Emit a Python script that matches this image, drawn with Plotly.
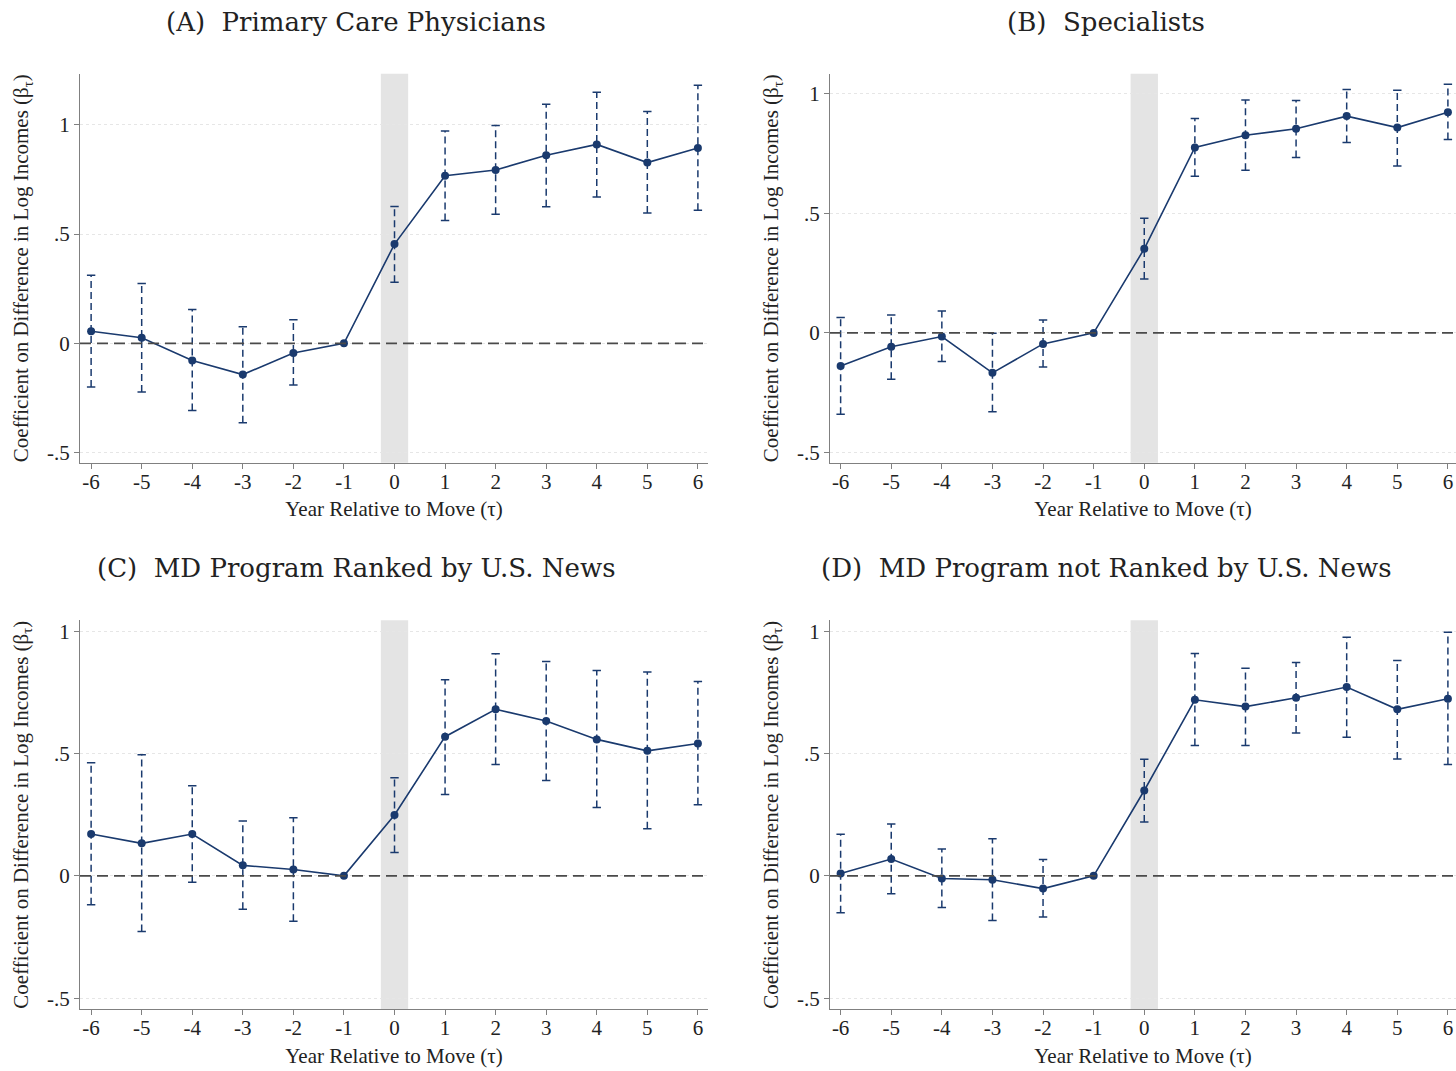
import plotly.graph_objects as go

years = [-6, -5, -4, -3, -2, -1, 0, 1, 2, 3, 4, 5, 6]

# Panel A: Primary Care Physicians
a_coef = [0.055, 0.026, -0.078, -0.143, -0.044, 0.0, 0.454, 0.767, 0.793, 0.860, 0.910, 0.827, 0.894]
a_hi = [0.312, 0.274, 0.155, 0.076, 0.108, None, 0.626, 0.971, 0.997, 1.094, 1.149, 1.061, 1.181]
a_lo = [-0.200, -0.222, -0.307, -0.363, -0.191, None, 0.280, 0.562, 0.590, 0.625, 0.669, 0.596, 0.609]

# Panel B: Specialists
b_coef = [-0.138, -0.058, -0.015, -0.167, -0.046, 0.0, 0.352, 0.776, 0.827, 0.854, 0.907, 0.859, 0.923]
b_hi = [0.065, 0.075, 0.092, -0.001, 0.054, None, 0.480, 0.897, 0.974, 0.972, 1.018, 1.015, 1.040]
b_lo = [-0.340, -0.194, -0.120, -0.330, -0.143, None, 0.226, 0.655, 0.680, 0.734, 0.797, 0.698, 0.809]

# Panel C: MD Program Ranked by U.S. News
c_coef = [0.171, 0.133, 0.171, 0.043, 0.026, 0.0, 0.249, 0.569, 0.681, 0.633, 0.558, 0.511, 0.541]
c_hi = [0.462, 0.495, 0.368, 0.224, 0.238, None, 0.401, 0.802, 0.908, 0.876, 0.840, 0.833, 0.795]
c_lo = [-0.118, -0.227, -0.026, -0.137, -0.186, None, 0.096, 0.333, 0.455, 0.390, 0.280, 0.193, 0.291]

# Panel D: MD Program not Ranked by U.S. News
d_coef = [0.010, 0.069, -0.011, -0.016, -0.052, 0.0, 0.349, 0.720, 0.692, 0.728, 0.772, 0.681, 0.724]
d_hi = [0.170, 0.212, 0.110, 0.152, 0.067, None, 0.477, 0.909, 0.849, 0.872, 0.976, 0.880, 0.996]
d_lo = [-0.151, -0.073, -0.129, -0.183, -0.168, None, 0.220, 0.533, 0.533, 0.584, 0.567, 0.478, 0.455]

titles = ["(A)  Primary Care Physicians", "(B)  Specialists",
          "(C)  MD Program Ranked by U.S. News", "(D)  MD Program not Ranked by U.S. News"]
y_ticks = [-0.5, 0, 0.5, 1]
y_ticklabels = ["-.5", "0", ".5", "1"]
x_title = "Year Relative to Move (τ)"
y_title = "Coefficient on Difference in Log Incomes (β<sub>τ</sub>)"

W, H = 1456, 1071
NAVY = "#1a3a6e"
SERIF = "Liberation Serif"
TSERIF = "DejaVu Serif"

panels = [
    dict(coef=a_coef, hi=a_hi, lo=a_lo, xpx=(80, 708), ypx=(73, 463), yr=[-0.546, 1.233], xr=[-6.22, 6.2], tc=356, ty=21),
    dict(coef=b_coef, hi=b_hi, lo=b_lo, xpx=(830, 1456), ypx=(73, 463), yr=[-0.543, 1.084], xr=[-6.21, 6.16], tc=1106, ty=21),
    dict(coef=c_coef, hi=c_hi, lo=c_lo, xpx=(80, 708), ypx=(621, 1011), yr=[-0.545, 1.045], xr=[-6.22, 6.2], tc=356, ty=569),
    dict(coef=d_coef, hi=d_hi, lo=d_lo, xpx=(830, 1456), ypx=(621, 1011), yr=[-0.545, 1.045], xr=[-6.21, 6.16], tc=1106, ty=569),
]

fig = go.Figure()
layout = dict(
    width=W, height=H, margin=dict(l=0, r=0, t=0, b=0),
    paper_bgcolor="white", plot_bgcolor="white", showlegend=False,
    font=dict(family=SERIF, color="#222"),
)
shapes = []
annotations = []

for i, p in enumerate(panels):
    n = "" if i == 0 else str(i + 1)
    xa, ya = "x" + n, "y" + n
    ex, ey, cx, cy = [], [], [], []
    for x, lo, hi in zip(years, p["lo"], p["hi"]):
        if lo is None:
            continue
        ex += [x, x, None]
        ey += [lo, hi, None]
        cx += [x, x]
        cy += [lo, hi]
    fig.add_trace(go.Scatter(x=ex, y=ey, mode="lines", xaxis=xa, yaxis=ya,
                             line=dict(color=NAVY, width=1.5, dash="7px,4px"), hoverinfo="skip"))
    fig.add_trace(go.Scatter(x=cx, y=cy, mode="markers", xaxis=xa, yaxis=ya,
                             marker=dict(symbol="line-ew", size=6, line=dict(color=NAVY, width=1.5)),
                             hoverinfo="skip"))
    fig.add_trace(go.Scatter(x=years, y=p["coef"], mode="lines+markers", xaxis=xa, yaxis=ya,
                             line=dict(color=NAVY, width=1.6),
                             marker=dict(color=NAVY, size=8, symbol="circle")))
    x0, x1 = p["xpx"][0], min(p["xpx"][1], W)
    yt, yb = p["ypx"]
    layout["xaxis" + n] = dict(
        domain=[x0 / W, x1 / W], range=p["xr"], anchor=ya,
        tickmode="array", tickvals=years, ticktext=[str(v) for v in years],
        showgrid=False, zeroline=False, showline=True, linecolor="#808080", linewidth=1.2,
        ticks="outside", ticklen=5, tickcolor="#808080", ticklabelstandoff=-5,
        tickfont=dict(family=SERIF, size=21, color="#222"),
        title=dict(text=x_title, font=dict(family=SERIF, size=21, color="#222"), standoff=8),
    )
    layout["yaxis" + n] = dict(
        domain=[(H - yb) / H, (H - yt) / H], range=p["yr"], anchor=xa,
        tickmode="array", tickvals=y_ticks, ticktext=y_ticklabels,
        showgrid=True, gridcolor="#e6e6e6", gridwidth=1, griddash="dot",
        zeroline=False, showline=True, linecolor="#808080", linewidth=1.2,
        ticks="outside", ticklen=5, tickcolor="#808080",
        tickfont=dict(family=SERIF, size=21, color="#222"),
        title=dict(text=y_title, font=dict(family=SERIF, size=21, color="#222"), standoff=12),
    )
    shapes.append(dict(type="rect", xref=xa, yref=ya + " domain", x0=-0.27, x1=0.27, y0=0, y1=1,
                       fillcolor="#e4e4e4", line=dict(width=0), layer="below"))
    shapes.append(dict(type="line", xref=xa + " domain", yref=ya, x0=0, x1=1, y0=0, y1=0,
                       line=dict(color="#4a4a4a", width=1.8, dash="11px,6px"), layer="above"))
    annotations.append(dict(text=titles[i], xref="paper", yref="paper",
                            x=p["tc"] / W, y=(H - p["ty"]) / H,
                            xanchor="center", yanchor="middle",
                            showarrow=False, font=dict(family=TSERIF, size=26, color="#222")))

layout["shapes"] = shapes
layout["annotations"] = annotations
fig.update_layout(**layout)
fig.write_html("out.html", config={"displayModeBar": False},
               post_script="document.body.style.margin='0';document.body.style.overflow='hidden';")
